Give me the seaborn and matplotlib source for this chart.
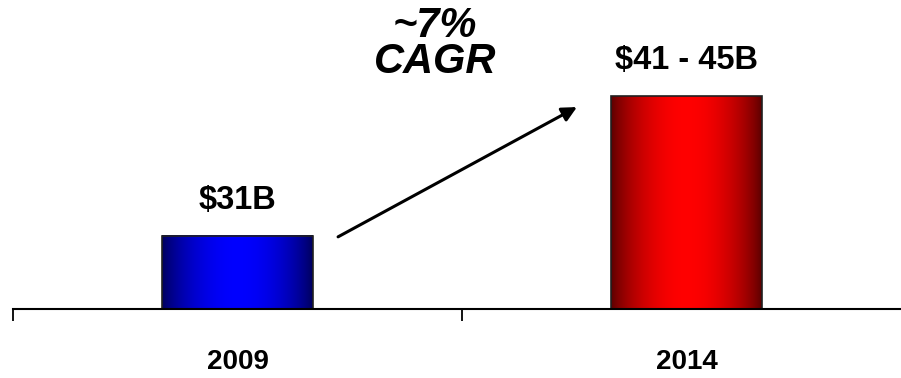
import numpy as np
import matplotlib
matplotlib.use("Agg")
import matplotlib.pyplot as plt
from matplotlib.colors import to_rgb
import seaborn as sns
import pandas as pd

# Market size by year ($B); 2014 is the midpoint of the $41-45B range
years = ["2009", "2014"]
market_size = [31, 43]
value_labels = ["$31B", "$41 - 45B"]
growth_lines = ["~7%", "CAGR"]
bar_dark = ["#000058", "#580000"]
bar_bright = ["#0000ff", "#ff0000"]

sns.set_theme(style="white")
plt.rcParams["font.family"] = ["Liberation Sans", "DejaVu Sans"]

fig = plt.figure(figsize=(9.01, 3.78), dpi=100)
ax = fig.add_axes([13 / 901, 69 / 378, 898 / 901, 309 / 378])

df = pd.DataFrame({"year": years, "size": market_size})
sns.barplot(data=df, x="year", y="size", width=0.336, ax=ax,
            color="white", edgecolor="none", linewidth=0, zorder=2)

ax.set_xlim(-0.5, 1.5)
ax.set_ylim(24.7, 51.25)
base = ax.get_ylim()[0]

# horizontal shading: dark edges, bright centre
t = np.linspace(0, 1, 256)
profile = np.sin(np.pi * t) ** 0.75
for patch, dark, bright in zip(ax.patches, bar_dark, bar_bright):
    x0, w = patch.get_x(), patch.get_width()
    top = patch.get_y() + patch.get_height()
    d, b = np.array(to_rgb(dark)), np.array(to_rgb(bright))
    grad = d[None, None, :] + (b - d)[None, None, :] * profile[None, :, None]
    ax.imshow(grad, extent=(x0, x0 + w, base, top), aspect="auto",
              zorder=2.5, interpolation="bilinear")
    ax.add_patch(plt.Rectangle((x0, base), w, top - base, fill=False,
                               edgecolor="#202020", lw=1.2, zorder=3))

ax.set_xlim(-0.5, 1.5)
ax.set_ylim(24.7, 51.25)

# value labels above the bars
for patch, label in zip(ax.patches, value_labels):
    ax.annotate(label, xy=(patch.get_x() + patch.get_width() / 2, patch.get_y() + patch.get_height()),
                xytext=(0, 19.5), textcoords="offset points", ha="center", va="baseline",
                fontsize=23.5, fontweight="bold", color="black", annotation_clip=False)

# growth arrow and CAGR label
ax.annotate("", xy=(0.756, market_size[1] - 0.95), xytext=(0.224, market_size[0] - 0.1),
            arrowprops=dict(arrowstyle="-|>", lw=2.2, color="black",
                            mutation_scale=22, shrinkA=0, shrinkB=0))
ax.text(0.44, 47.45, "\n".join(growth_lines), ha="center", va="center",
        fontsize=30, fontweight="bold", fontstyle="italic", linespacing=0.88,
        color="black", clip_on=False)

# category boundaries as major ticks, year names as minor labels
ax.set_xticks([-0.5, 0.5, 1.5])
ax.set_xticklabels([])
ax.set_xticks([0, 1], minor=True)
ax.set_xticklabels(years, minor=True, fontsize=20, fontweight="bold")
ax.tick_params(axis="x", which="major", bottom=True, length=8.6, width=1.3,
               color="black", direction="out")
ax.tick_params(axis="x", which="minor", bottom=True, length=0, pad=29,
               labelcolor="black")
ax.set_yticks([])
ax.set_xlabel("")
ax.set_ylabel("")
for side in ["left", "top", "right"]:
    ax.spines[side].set_visible(False)
ax.spines["bottom"].set_color("black")
ax.spines["bottom"].set_linewidth(1.5)
ax.spines["bottom"].set_zorder(4)
ax.patch.set_alpha(0)

fig.savefig("out.png", dpi=100)
